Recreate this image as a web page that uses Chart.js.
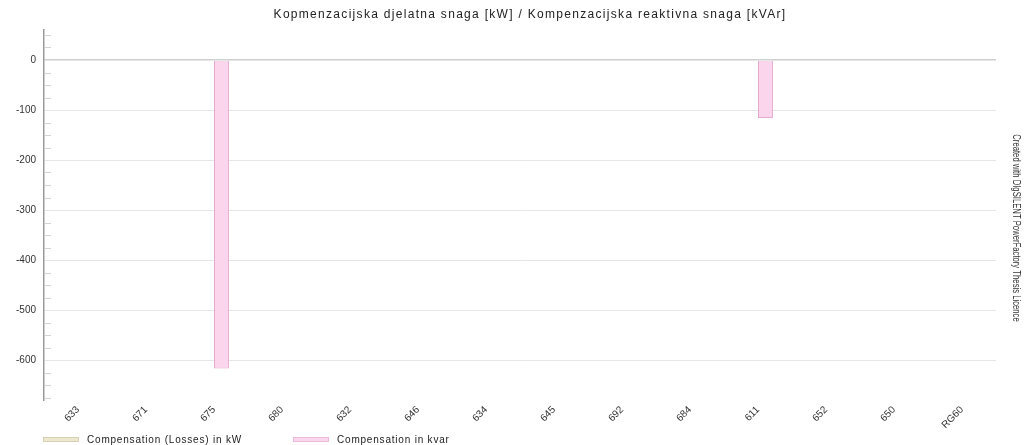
<!DOCTYPE html>
<html>
<head>
<meta charset="utf-8">
<script src="https://cdn.jsdelivr.net/npm/chart.js@4/dist/chart.umd.min.js"></script>
<style>
  html, body { margin: 0; padding: 0; background: #ffffff; }
  #wrap { position: relative; width: 1029px; height: 445px; }
</style>
</head>
<body>
<div id="wrap"><canvas id="c" width="1029" height="445"></canvas></div>
<script>
// Busbars (terminals) of the feeder
const nodes = ['633', '671', '675', '680', '632', '646', '634', '645', '692', '684', '611', '652', '650', 'RG60'];
// Active power compensation (losses), kW
const compKW = [0, 0, 0, 0, 0, 0, 0, 0, 0, 0, 0, 0, 0, 0];
// Reactive power compensation, kvar
const compKvar = [0, 0, -617, 0, 0, 0, 0, 0, 0, 0, -116, 0, 0, 0];

const seriesNames = ['Compensation (Losses) in kW', 'Compensation in kvar'];
const chartTitle = 'Kopmenzacijska djelatna snaga [kW] / Kompenzacijska reaktivna snaga [kVAr]';
const licenceText = 'Created with DIgSILENT PowerFactory Thesis Licence';

const FONT = "'Liberation Sans', Arial, sans-serif";

// Title, side note, minor ticks and legend drawn onto the canvas
const decorations = {
  id: 'decorations',
  afterDraw(chart) {
    const ctx = chart.ctx;
    const area = chart.chartArea;
    const y = chart.scales.y;
    ctx.save();

    // minor tick marks on the value axis (every 25)
    ctx.strokeStyle = '#d4d4d4';
    ctx.lineWidth = 1;
    y.ticks.forEach(t => {
      if (t.value % 100 === 0) return;
      const py = Math.round(y.getPixelForValue(t.value)) + 0.5;
      ctx.beginPath();
      ctx.moveTo(area.left + 1, py);
      ctx.lineTo(area.left + 7, py);
      ctx.stroke();
    });

    // title
    ctx.fillStyle = '#222';
    ctx.font = '12px ' + FONT;
    ctx.letterSpacing = '1.3px';
    ctx.textAlign = 'center';
    ctx.textBaseline = 'middle';
    ctx.fillText(chartTitle, 530, 15);

    // vertical note on the right (condensed)
    ctx.save();
    ctx.letterSpacing = '0px';
    ctx.translate(1016, 228);
    ctx.rotate(Math.PI / 2);
    ctx.scale(0.77, 1);
    ctx.font = '10px ' + FONT;
    ctx.fillStyle = '#333';
    ctx.fillText(licenceText, 0, 0);
    ctx.restore();

    // legend
    const starts = [43, 293];
    ctx.letterSpacing = '0.8px';
    chart.data.datasets.forEach((ds, i) => {
      const x0 = starts[i];
      ctx.fillStyle = ds.backgroundColor;
      ctx.fillRect(x0, 437, 36, 5);
      ctx.strokeStyle = ds.borderColor;
      ctx.lineWidth = 0.6;
      ctx.strokeRect(x0 + 0.5, 437.5, 35, 4);
      ctx.fillStyle = '#222';
      ctx.font = '10px ' + FONT;
      ctx.textAlign = 'left';
      ctx.textBaseline = 'middle';
      ctx.fillText(ds.label, x0 + 44, 440);
    });
    ctx.restore();
  }
};

new Chart(document.getElementById('c'), {
  type: 'bar',
  data: {
    labels: nodes,
    datasets: [
      {
        label: seriesNames[0],
        data: compKW,
        backgroundColor: '#ece8cf',
        borderColor: '#c9c29e',
        borderWidth: 1,
        categoryPercentage: 0.44,
        barPercentage: 1.0
      },
      {
        label: seriesNames[1],
        data: compKvar,
        backgroundColor: '#fad5ec',
        borderColor: '#e3a9cf',
        borderWidth: 1,
        categoryPercentage: 0.44,
        barPercentage: 1.0
      }
    ]
  },
  options: {
    responsive: false,
    animation: false,
    layout: { padding: { top: 30, right: 33, bottom: 0, left: 0 } },
    plugins: {
      legend: { display: false },
      title: { display: false },
      tooltip: { enabled: false }
    },
    scales: {
      x: {
        grid: { display: false },
        border: { display: false },
        ticks: {
          color: '#333',
          font: { family: FONT, size: 10 },
          minRotation: 45,
          maxRotation: 45,
          autoSkip: false,
          padding: -4
        },
        afterFit(scale) { scale.height = 45; }
      },
      y: {
        min: -680,
        max: 60,
        afterBuildTicks(scale) {
          const t = [];
          for (let v = -675; v <= 50; v += 25) t.push({ value: v });
          scale.ticks = t;
        },
        afterFit(scale) { scale.width = 44; },
        border: { display: true, color: '#9a9a9a', width: 1.5 },
        grid: {
          drawTicks: false,
          color(ctx) {
            if (!ctx.tick) return 'rgba(0,0,0,0)';
            if (ctx.tick.value === 0) return '#cfcfcf';
            return ctx.tick.value % 100 === 0 ? '#e6e6e6' : 'rgba(0,0,0,0)';
          },
          lineWidth(ctx) {
            return ctx.tick && ctx.tick.value === 0 ? 1.5 : 1;
          }
        },
        ticks: {
          color: '#333',
          font: { family: FONT, size: 10 },
          padding: 8,
          autoSkip: false,
          callback(v) { return v % 100 === 0 ? String(v) : ''; }
        }
      }
    }
  },
  plugins: [decorations]
});
</script>
</body>
</html>
